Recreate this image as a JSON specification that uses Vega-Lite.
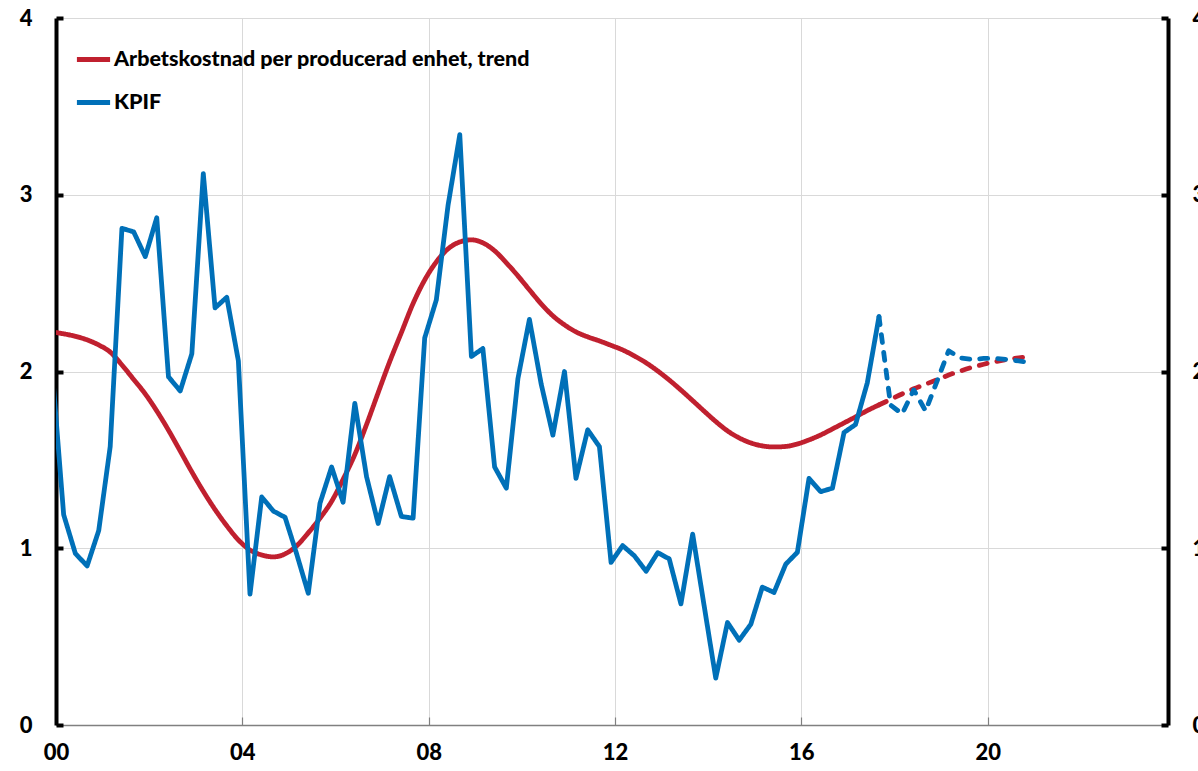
{
  "$schema": "https://vega.github.io/schema/vega-lite/v6.json",
  "width": 1112,
  "height": 707,
  "autosize": {"type": "none"},
  "padding": {"left": 56, "top": 18, "right": 30, "bottom": 46},
  "background": "white",
  "config": {"view": {"stroke": null}, "font": "Lato"},
  "datasets": {
    "ark": [
      {"t":"1999-12-01","f":"u","v":2.224},
      {"t":"2000-03-01","f":"u","v":2.213},{"t":"2000-06-01","f":"u","v":2.199},{"t":"2000-09-01","f":"u","v":2.179},{"t":"2000-12-01","f":"u","v":2.15},
      {"t":"2001-03-01","f":"u","v":2.11},{"t":"2001-06-01","f":"u","v":2.037},{"t":"2001-09-01","f":"u","v":1.955},{"t":"2001-12-01","f":"u","v":1.873},
      {"t":"2002-03-01","f":"u","v":1.777},{"t":"2002-06-01","f":"u","v":1.668},{"t":"2002-09-01","f":"u","v":1.55},{"t":"2002-12-01","f":"u","v":1.432},
      {"t":"2003-03-01","f":"u","v":1.322},{"t":"2003-06-01","f":"u","v":1.219},{"t":"2003-09-01","f":"u","v":1.127},{"t":"2003-12-01","f":"u","v":1.047},
      {"t":"2004-03-01","f":"u","v":0.99},{"t":"2004-06-01","f":"u","v":0.962},{"t":"2004-09-01","f":"u","v":0.951},{"t":"2004-12-01","f":"u","v":0.968},
      {"t":"2005-03-01","f":"u","v":1.013},{"t":"2005-06-01","f":"u","v":1.087},{"t":"2005-09-01","f":"u","v":1.17},{"t":"2005-12-01","f":"u","v":1.265},
      {"t":"2006-03-01","f":"u","v":1.39},{"t":"2006-06-01","f":"u","v":1.53},{"t":"2006-09-01","f":"u","v":1.7},{"t":"2006-12-01","f":"u","v":1.88},
      {"t":"2007-03-01","f":"u","v":2.055},{"t":"2007-06-01","f":"u","v":2.22},{"t":"2007-09-01","f":"u","v":2.385},{"t":"2007-12-01","f":"u","v":2.518},
      {"t":"2008-03-01","f":"u","v":2.62},{"t":"2008-06-01","f":"u","v":2.694},{"t":"2008-09-01","f":"u","v":2.733},{"t":"2008-12-01","f":"u","v":2.745},
      {"t":"2009-03-01","f":"u","v":2.728},{"t":"2009-06-01","f":"u","v":2.683},{"t":"2009-09-01","f":"u","v":2.615},{"t":"2009-12-01","f":"u","v":2.541},
      {"t":"2010-03-01","f":"u","v":2.462},{"t":"2010-06-01","f":"u","v":2.383},{"t":"2010-09-01","f":"u","v":2.315},{"t":"2010-12-01","f":"u","v":2.264},
      {"t":"2011-03-01","f":"u","v":2.224},{"t":"2011-06-01","f":"u","v":2.196},{"t":"2011-09-01","f":"u","v":2.173},{"t":"2011-12-01","f":"u","v":2.148},
      {"t":"2012-03-01","f":"u","v":2.122},{"t":"2012-06-01","f":"u","v":2.088},{"t":"2012-09-01","f":"u","v":2.049},{"t":"2012-12-01","f":"u","v":2.003},
      {"t":"2013-03-01","f":"u","v":1.952},{"t":"2013-06-01","f":"u","v":1.895},{"t":"2013-09-01","f":"u","v":1.835},{"t":"2013-12-01","f":"u","v":1.775},
      {"t":"2014-03-01","f":"u","v":1.717},{"t":"2014-06-01","f":"u","v":1.664},{"t":"2014-09-01","f":"u","v":1.624},{"t":"2014-12-01","f":"u","v":1.596},
      {"t":"2015-03-01","f":"u","v":1.579},{"t":"2015-06-01","f":"u","v":1.573},{"t":"2015-09-01","f":"u","v":1.576},{"t":"2015-12-01","f":"u","v":1.59},
      {"t":"2016-03-01","f":"u","v":1.613},{"t":"2016-06-01","f":"u","v":1.641},{"t":"2016-09-01","f":"u","v":1.675},{"t":"2016-12-01","f":"u","v":1.709},
      {"t":"2017-03-01","f":"u","v":1.743},{"t":"2017-06-01","f":"u","v":1.779},{"t":"2017-09-01","f":"u","v":1.811},
      {"t":"2017-09-01","f":"p","v":1.811},{"t":"2017-12-01","f":"p","v":1.842},
      {"t":"2018-03-01","f":"p","v":1.873},{"t":"2018-06-01","f":"p","v":1.902},{"t":"2018-09-01","f":"p","v":1.928},{"t":"2018-12-01","f":"p","v":1.954},
      {"t":"2019-03-01","f":"p","v":1.98},{"t":"2019-06-01","f":"p","v":2.003},{"t":"2019-09-01","f":"p","v":2.024},{"t":"2019-12-01","f":"p","v":2.041},
      {"t":"2020-03-01","f":"p","v":2.056},{"t":"2020-06-01","f":"p","v":2.068},{"t":"2020-09-01","f":"p","v":2.077},{"t":"2020-12-01","f":"p","v":2.085}
    ],
    "kpif": [
      {"t":"1999-12-01","f":"u","v":2.02},
      {"t":"2000-03-01","f":"u","v":1.19},{"t":"2000-06-01","f":"u","v":0.97},{"t":"2000-09-01","f":"u","v":0.9},{"t":"2000-12-01","f":"u","v":1.1},
      {"t":"2001-03-01","f":"u","v":1.575},{"t":"2001-06-01","f":"u","v":2.81},{"t":"2001-09-01","f":"u","v":2.79},{"t":"2001-12-01","f":"u","v":2.65},
      {"t":"2002-03-01","f":"u","v":2.87},{"t":"2002-06-01","f":"u","v":1.97},{"t":"2002-09-01","f":"u","v":1.89},{"t":"2002-12-01","f":"u","v":2.1},
      {"t":"2003-03-01","f":"u","v":3.12},{"t":"2003-06-01","f":"u","v":2.36},{"t":"2003-09-01","f":"u","v":2.42},{"t":"2003-12-01","f":"u","v":2.06},
      {"t":"2004-03-01","f":"u","v":0.74},{"t":"2004-06-01","f":"u","v":1.29},{"t":"2004-09-01","f":"u","v":1.21},{"t":"2004-12-01","f":"u","v":1.175},
      {"t":"2005-03-01","f":"u","v":0.97},{"t":"2005-06-01","f":"u","v":0.745},{"t":"2005-09-01","f":"u","v":1.255},{"t":"2005-12-01","f":"u","v":1.46},
      {"t":"2006-03-01","f":"u","v":1.26},{"t":"2006-06-01","f":"u","v":1.82},{"t":"2006-09-01","f":"u","v":1.405},{"t":"2006-12-01","f":"u","v":1.14},
      {"t":"2007-03-01","f":"u","v":1.405},{"t":"2007-06-01","f":"u","v":1.18},{"t":"2007-09-01","f":"u","v":1.17},{"t":"2007-12-01","f":"u","v":2.19},
      {"t":"2008-03-01","f":"u","v":2.405},{"t":"2008-06-01","f":"u","v":2.94},{"t":"2008-09-01","f":"u","v":3.34},{"t":"2008-12-01","f":"u","v":2.085},
      {"t":"2009-03-01","f":"u","v":2.13},{"t":"2009-06-01","f":"u","v":1.46},{"t":"2009-09-01","f":"u","v":1.34},{"t":"2009-12-01","f":"u","v":1.96},
      {"t":"2010-03-01","f":"u","v":2.295},{"t":"2010-06-01","f":"u","v":1.93},{"t":"2010-09-01","f":"u","v":1.64},{"t":"2010-12-01","f":"u","v":2.0},
      {"t":"2011-03-01","f":"u","v":1.395},{"t":"2011-06-01","f":"u","v":1.67},{"t":"2011-09-01","f":"u","v":1.575},{"t":"2011-12-01","f":"u","v":0.92},
      {"t":"2012-03-01","f":"u","v":1.015},{"t":"2012-06-01","f":"u","v":0.957},{"t":"2012-09-01","f":"u","v":0.87},{"t":"2012-12-01","f":"u","v":0.975},
      {"t":"2013-03-01","f":"u","v":0.94},{"t":"2013-06-01","f":"u","v":0.685},{"t":"2013-09-01","f":"u","v":1.08},{"t":"2013-12-01","f":"u","v":0.67},
      {"t":"2014-03-01","f":"u","v":0.265},{"t":"2014-06-01","f":"u","v":0.58},{"t":"2014-09-01","f":"u","v":0.48},{"t":"2014-12-01","f":"u","v":0.57},
      {"t":"2015-03-01","f":"u","v":0.78},{"t":"2015-06-01","f":"u","v":0.75},{"t":"2015-09-01","f":"u","v":0.91},{"t":"2015-12-01","f":"u","v":0.977},
      {"t":"2016-03-01","f":"u","v":1.395},{"t":"2016-06-01","f":"u","v":1.32},{"t":"2016-09-01","f":"u","v":1.34},{"t":"2016-12-01","f":"u","v":1.655},
      {"t":"2017-03-01","f":"u","v":1.7},{"t":"2017-06-01","f":"u","v":1.935},{"t":"2017-09-01","f":"u","v":2.31},
      {"t":"2017-09-01","f":"p","v":2.31},{"t":"2017-12-01","f":"p","v":1.81},
      {"t":"2018-03-01","f":"p","v":1.76},{"t":"2018-06-01","f":"p","v":1.896},{"t":"2018-09-01","f":"p","v":1.777},{"t":"2018-12-01","f":"p","v":1.947},
      {"t":"2019-03-01","f":"p","v":2.117},{"t":"2019-06-01","f":"p","v":2.077},{"t":"2019-09-01","f":"p","v":2.068},{"t":"2019-12-01","f":"p","v":2.074},
      {"t":"2020-03-01","f":"p","v":2.074},{"t":"2020-06-01","f":"p","v":2.068},{"t":"2020-09-01","f":"p","v":2.06},{"t":"2020-12-01","f":"p","v":2.05}
    ]
  },
  "encoding": {
    "x": {
      "field": "t",
      "type": "temporal",
      "scale": {
        "type": "utc",
        "domain": [{"year": 2000, "month": 1, "date": 1, "utc": true}, {"year": 2023, "month": 11, "date": 15, "utc": true}]
      },
      "axis": {
        "title": null,
        "values": [
          {"year": 2000, "month": 1, "date": 1, "utc": true},
          {"year": 2004, "month": 1, "date": 1, "utc": true},
          {"year": 2008, "month": 1, "date": 1, "utc": true},
          {"year": 2012, "month": 1, "date": 1, "utc": true},
          {"year": 2016, "month": 1, "date": 1, "utc": true},
          {"year": 2020, "month": 1, "date": 1, "utc": true}
        ],
        "labelExpr": "utcFormat(datum.value, '%y')",
        "labelFlush": false,
        "labelOverlap": false,
        "grid": true,
        "gridColor": "#d9d9d9",
        "gridWidth": 1,
        "domainColor": "#808080",
        "domainWidth": 1.5,
        "tickColor": "#808080",
        "tickSize": -8,
        "tickWidth": 1.2,
        "labelFont": "Lato",
        "labelFontSize": 22,
        "labelFontWeight": 900,
        "labelColor": "black",
        "labelPadding": 25
      }
    },
    "strokeDash": {
      "field": "f",
      "type": "nominal",
      "scale": {"domain": ["u", "p"], "range": [[1, 0], [8, 10]]},
      "legend": null
    }
  },
  "layer": [
    {
      "data": {"name": "ark"},
      "mark": {"type": "line", "strokeWidth": 4.8, "strokeCap": "round", "strokeJoin": "round", "clip": true, "interpolate": "monotone"},
      "encoding": {
        "y": {
          "field": "v",
          "type": "quantitative",
          "scale": {"domain": [0, 4], "nice": false},
          "axis": {
            "orient": "left",
            "title": null,
            "values": [0, 1, 2, 3, 4],
            "grid": true,
            "gridColor": "#d9d9d9",
            "gridWidth": 1,
            "domainColor": "black",
            "domainWidth": 4,
            "tickColor": "black",
            "tickWidth": 4,
            "tickSize": -7,
            "labelFont": "Lato",
            "labelFontSize": 22,
            "labelFontWeight": 900,
            "labelColor": "black",
            "labelPadding": 31
          }
        },
        "color": {
          "datum": "Arbetskostnad per producerad enhet, trend",
          "type": "nominal",
          "scale": {
            "domain": ["Arbetskostnad per producerad enhet, trend", "KPIF"],
            "range": ["#C0202F", "#0070B8"]
          },
          "legend": {
            "title": null,
            "orient": "none",
            "legendX": 18,
            "legendY": 22,
            "symbolType": "stroke",
            "symbolSize": 1100,
            "symbolStrokeWidth": 5,
            "labelFont": "Lato",
            "labelFontSize": 21.5,
            "labelFontWeight": 900,
            "labelColor": "black",
            "labelLimit": 800,
            "labelOffset": 1,
            "rowPadding": 13,
            "padding": 0
          }
        }
      }
    },
    {
      "data": {"name": "kpif"},
      "mark": {"type": "line", "strokeWidth": 4.8, "strokeCap": "round", "strokeJoin": "round", "clip": true},
      "encoding": {
        "y": {
          "field": "v",
          "type": "quantitative",
          "scale": {"domain": [0, 4], "nice": false},
          "axis": {
            "orient": "right",
            "title": null,
            "values": [0, 1, 2, 3, 4],
            "grid": false,
            "domainColor": "black",
            "domainWidth": 4,
            "tickColor": "black",
            "tickWidth": 4,
            "tickSize": -7,
            "labelFont": "Lato",
            "labelFontSize": 22,
            "labelFontWeight": 900,
            "labelColor": "black",
            "labelPadding": 31
          }
        },
        "color": {"datum": "KPIF", "type": "nominal"}
      }
    }
  ],
  "resolve": {"axis": {"y": "independent"}}
}
